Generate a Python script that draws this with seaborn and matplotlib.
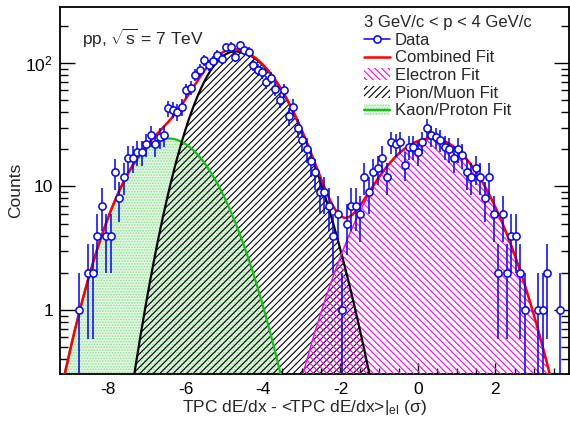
import numpy as np
import pandas as pd
import matplotlib
matplotlib.use("Agg")
import matplotlib.pyplot as plt
import seaborn as sns
from matplotlib.patches import Patch
from matplotlib.lines import Line2D
from matplotlib.ticker import FixedLocator, FixedFormatter, NullFormatter

# ---------------- data ----------------
bin_start = -8.74          # centre of the first bin (sigma)
bin_width = 0.115          # histogram bin width (sigma)
counts = [
    1, 0, 2, 2, 4, 7, 4, 4, 13, 8, 12, 17, 17, 19, 19, 22, 26, 22, 25, 26,
    43, 42, 40, 44, 60, 63, 80, 88, 105, 96, 104, 116, 108, 134, 135, 112, 140, 127, 123, 96,
    88, 84, 70, 76, 62, 50, 60, 37, 44, 30, 24, 20, 16, 13, 9, 9, 7, 4, 6, 1,
    5, 7, 7, 6,
    12, 9, 13, 14, 17, 12, 23, 22, 23, 15, 21, 21, 19, 23, 30, 26, 25, 24, 21, 20,
    17, 20, 18, 13, 12, 14, 12, 8, 12, 6, 2, 6, 2, 4, 4, 2, 1,
    0, 0, 1, 1, 2, 0, 0, 1,
]
# fit parameters: amplitude, mean, sigma (left side), sigma (right side)
electron_fit = [24.5, 0.35, 1.12, 1.03]
pion_fit = [124.0, -4.72, 0.75, 1.00]
kaon_fit = [24.5, -6.45, 0.90, 0.98]

legend_title = "3 GeV/c < p < 4 GeV/c"
legend_labels = ["Data", "Combined Fit", "Electron Fit", "Pion/Muon Fit", "Kaon/Proton Fit"]
x_label = r"TPC dE/dx - <TPC dE/dx>$\mathregular{|_{el}}$ ($\mathregular{\sigma}$)"
y_label = "Counts"
system_label = r"pp, $\mathregular{\sqrt{s}}$ = 7 TeV"
x_major = [-8, -6, -4, -2, 0, 2]
y_major = [1, 10, 100]
y_major_labels = ["1", "10", r"$\mathregular{10^{2}}$"]
y_minor = [0.4, 0.5, 0.6, 0.7, 0.8, 0.9, 2, 3, 4, 5, 6, 7, 8, 9,
           20, 30, 40, 50, 60, 70, 80, 90, 200]

# ---------------- style ----------------
sns.set_theme(style="ticks")
plt.rcParams["font.family"] = ["Liberation Sans", "DejaVu Sans"]
plt.rcParams["mathtext.fontset"] = "custom"
plt.rcParams["mathtext.rm"] = "Liberation Sans"
plt.rcParams["mathtext.it"] = "Liberation Sans:italic"
plt.rcParams["mathtext.sf"] = "Liberation Sans"
plt.rcParams["hatch.linewidth"] = 0.8
plt.rcParams["axes.unicode_minus"] = False

XMIN, XMAX = -9.24, 3.9
YMIN, YMAX = 0.303, 284

def agauss(x, p):
    a, mu, sl, sr = p
    s = np.where(x < mu, sl, sr)
    return a * np.exp(-0.5 * ((x - mu) / s) ** 2)

centers = np.round(bin_start + bin_width * np.arange(len(counts)), 4)
df = pd.DataFrame({"x": centers, "n": np.array(counts, dtype=float)})
df = df[df["n"] > 0]
err = np.sqrt(df["n"].values)
lo = np.maximum(df["n"].values - err, 1e-3)

xg = np.linspace(XMIN, XMAX, 1500)
y_e = agauss(xg, electron_fit)
y_p = agauss(xg, pion_fit)
y_k = agauss(xg, kaon_fit)
y_tot = y_e + y_p + y_k

fig = plt.figure(figsize=(5.7, 4.29), dpi=100)
ax = fig.add_axes([60 / 570, 55 / 429, 509 / 570, 367 / 429])
ax.set_facecolor("white")
ax.set_yscale("log")
ax.set_xlim(XMIN, XMAX)
ax.set_ylim(YMIN, YMAX)

green = "#11c011"
green_fill = "#8fe08f"
magenta = "#ff00ff"

# filled fit components
ax.fill_between(xg, YMIN, y_k, where=y_k > YMIN, interpolate=True,
                facecolor="#e4f7e4", edgecolor=green_fill, hatch="......", linewidth=0, zorder=1)
ax.fill_between(xg, YMIN, y_p, where=y_p > YMIN, interpolate=True,
                facecolor="none", edgecolor="black", hatch="/////", linewidth=0, zorder=2)
ax.fill_between(xg, YMIN, y_e, where=y_e > YMIN, interpolate=True,
                facecolor="none", edgecolor=magenta, hatch="\\\\\\\\\\", linewidth=0, zorder=3)

curves = pd.DataFrame({"x": xg, "e": y_e, "p": y_p, "k": y_k, "t": y_tot})
sns.lineplot(data=curves, x="x", y="k", color=green, lw=1.6, ax=ax, zorder=4)
sns.lineplot(data=curves, x="x", y="p", color="black", lw=1.6, ax=ax, zorder=4)
sns.lineplot(data=curves, x="x", y="e", color=magenta, lw=1.0, ax=ax, zorder=4)
sns.lineplot(data=curves, x="x", y="t", color="red", lw=1.8, ax=ax, zorder=5)

ax.errorbar(df["x"], df["n"], yerr=[df["n"].values - lo, err], fmt="o",
            ms=5.2, mfc="white", mec="blue", mew=1.1, ecolor="blue",
            elinewidth=1.1, capsize=0, zorder=6)

# axes, ticks
ax.xaxis.set_major_locator(FixedLocator(x_major))
ax.xaxis.set_minor_locator(FixedLocator(np.arange(-9, 4, 0.5)))
ax.yaxis.set_major_locator(FixedLocator(y_major))
ax.yaxis.set_major_formatter(FixedFormatter(y_major_labels))
ax.yaxis.set_minor_locator(FixedLocator(y_minor))
ax.yaxis.set_minor_formatter(NullFormatter())
ax.tick_params(which="both", direction="in", top=False, right=True, colors="black",
               labelsize=12.5, width=1.0)
ax.tick_params(axis="y", which="major", length=11, pad=5)
ax.tick_params(axis="y", which="minor", length=5.5)
ax.tick_params(axis="x", which="major", length=8, pad=6)
ax.tick_params(axis="x", which="minor", length=4)
for s in ax.spines.values():
    s.set_linewidth(1.3)
    s.set_color("black")
ax.set_xlabel(x_label, fontsize=12.5)
ax.set_ylabel(y_label, fontsize=12.5)
ax.xaxis.set_label_coords(0.481, -0.065)
ax.yaxis.set_label_coords(-0.072, 0.5)

ax.text((82 - 60) / 509, (374 - 38) / 367, system_label, transform=ax.transAxes,
        fontsize=12.5, va="center", ha="left")

handles = [
    Line2D([], [], color="blue", marker="o", mfc="white", mec="blue", ms=5.2, mew=1.1, lw=1.1),
    Line2D([], [], color="red", lw=1.8),
    Patch(facecolor="none", edgecolor=magenta, hatch="\\\\\\\\\\", linewidth=0),
    Patch(facecolor="none", edgecolor="black", hatch="/////", linewidth=0),
    (Patch(facecolor="#e4f7e4", edgecolor=green_fill, hatch="......", linewidth=0),
     Line2D([], [], color=green, lw=1.6)),
]
leg = ax.legend(handles, legend_labels, title=legend_title, loc="upper left",
                bbox_to_anchor=((364 - 60) / 509, (374 - 15) / 367), frameon=False,
                fontsize=12, title_fontsize=12, handlelength=1.55, handletextpad=0.3,
                labelspacing=0.16, borderpad=0, borderaxespad=0)
leg._legend_box.align = "left"

fig.savefig("out.png", dpi=100, facecolor="white")
